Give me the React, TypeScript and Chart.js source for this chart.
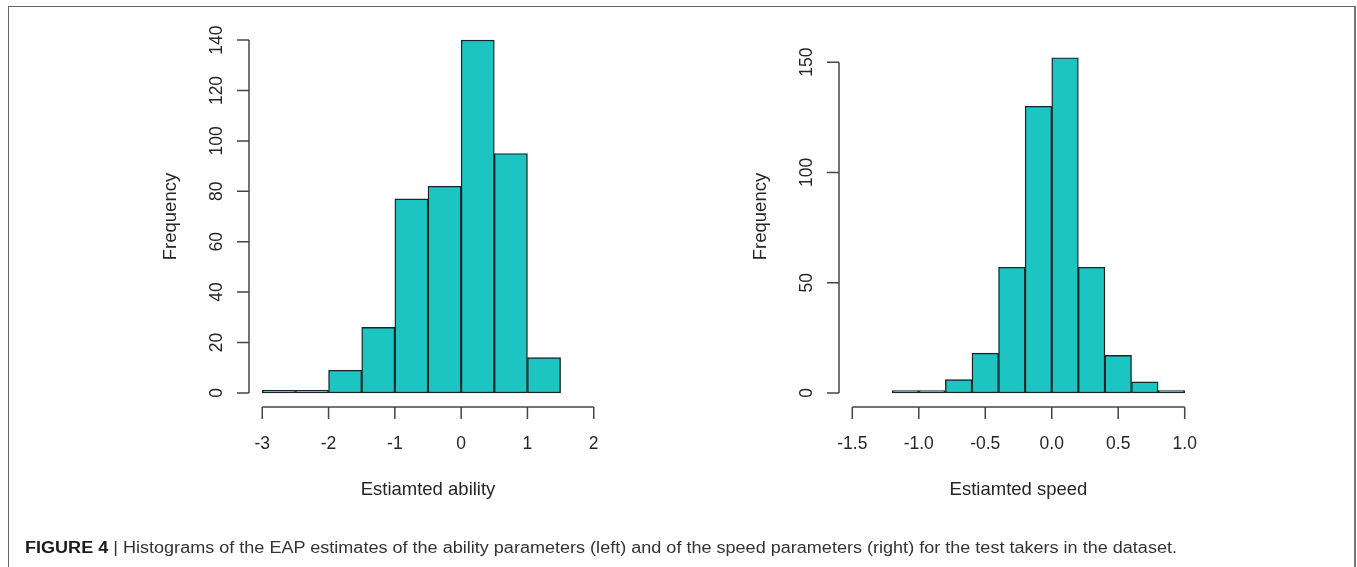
import React, { useEffect, useLayoutEffect, useRef } from "react";
import { Chart, registerables } from "chart.js";

Chart.register(...registerables);

// ---------- data ----------
const abilityBreaks = [-3, -2.5, -2, -1.5, -1, -0.5, 0, 0.5, 1, 1.5];
const abilityCounts = [1, 1, 9, 26, 77, 82, 140, 95, 14];
const abilityXTicks = [-3, -2, -1, 0, 1, 2];
const abilityXTickLabels = ["-3", "-2", "-1", "0", "1", "2"];
const abilityYTicks = [0, 20, 40, 60, 80, 100, 120, 140];
const abilityYTickLabels = ["0", "20", "40", "60", "80", "100", "120", "140"];

const speedBreaks = [-1.2, -1.0, -0.8, -0.6, -0.4, -0.2, 0, 0.2, 0.4, 0.6, 0.8, 1.0];
const speedCounts = [1, 1, 6, 18, 57, 130, 152, 57, 17, 5, 1];
const speedXTicks = [-1.5, -1.0, -0.5, 0, 0.5, 1.0];
const speedXTickLabels = ["-1.5", "-1.0", "-0.5", "0.0", "0.5", "1.0"];
const speedYTicks = [0, 50, 100, 150];
const speedYTickLabels = ["0", "50", "100", "150"];

const yAxisTitle = "Frequency";
const abilityTitle = "Estiamted ability";
const speedTitle = "Estiamted speed";
const captionBold = "FIGURE 4";
const captionText =
  "Histograms of the EAP estimates of the ability parameters (left) and of the speed parameters (right) for the test takers in the dataset.";

// ---------- styles ----------
const BAR_FILL = "#1cc4c2";
const BAR_BORDER = "#1a2626";
const AXIS_COLOR = "#454545";
const TEXT_COLOR = "#262626";
const FONT = "'Liberation Sans', Arial, Helvetica, sans-serif";

type PanelProps = {
  breaks: number[];
  counts: number[];
  xTicks: number[];
  xLabels: string[];
  yTicks: number[];
  yLabels: string[];
  xTitle: string;
  xMin: number;
  xMax: number;
  yMin: number;
  yMax: number;
  left: number;
  width: number;
  pad: { left: number; right: number; top: number; bottom: number };
};

function Panel(p: PanelProps) {
  const ref = useRef<HTMLCanvasElement | null>(null);
  useEffect(() => {
    if (!ref.current) return;
    const data = p.counts.map((c, i) => ({ x: (p.breaks[i] + p.breaks[i + 1]) / 2, y: c }));
    const rAxes = {
      id: "rAxes",
      afterDraw(chart: any) {
        const { ctx, chartArea } = chart;
        const xs = chart.scales.x;
        const ys = chart.scales.y;
        ctx.save();
        ctx.strokeStyle = AXIS_COLOR;
        ctx.lineWidth = 1.5;
        // x axis
        const ay = chartArea.bottom;
        const xa = xs.getPixelForValue(p.xTicks[0]);
        const xb = xs.getPixelForValue(p.xTicks[p.xTicks.length - 1]);
        ctx.beginPath();
        ctx.moveTo(xa, ay);
        ctx.lineTo(xb, ay);
        p.xTicks.forEach((t) => {
          const px = xs.getPixelForValue(t);
          ctx.moveTo(px, ay);
          ctx.lineTo(px, ay + 12);
        });
        ctx.stroke();
        // y axis
        const ax = chartArea.left;
        const ya = ys.getPixelForValue(p.yTicks[0]);
        const yb = ys.getPixelForValue(p.yTicks[p.yTicks.length - 1]);
        ctx.beginPath();
        ctx.moveTo(ax, ya);
        ctx.lineTo(ax, yb);
        p.yTicks.forEach((t) => {
          const py = ys.getPixelForValue(t);
          ctx.moveTo(ax, py);
          ctx.lineTo(ax - 12, py);
        });
        ctx.stroke();
        // tick labels
        ctx.fillStyle = TEXT_COLOR;
        ctx.font = `17.5px ${FONT}`;
        ctx.textAlign = "center";
        ctx.textBaseline = "alphabetic";
        p.xTicks.forEach((t, i) => {
          ctx.fillText(p.xLabels[i], xs.getPixelForValue(t), ay + 42);
        });
        p.yTicks.forEach((t, i) => {
          ctx.save();
          ctx.translate(ax - 27.3, ys.getPixelForValue(t));
          ctx.rotate(-Math.PI / 2);
          ctx.fillText(p.yLabels[i], 0, 0);
          ctx.restore();
        });
        // titles
        ctx.font = `18.5px ${FONT}`;
        ctx.fillText(p.xTitle, (chartArea.left + chartArea.right) / 2, ay + 88);
        ctx.save();
        ctx.translate(ax - 73, (chartArea.top + chartArea.bottom) / 2);
        ctx.rotate(-Math.PI / 2);
        ctx.fillText(yAxisTitle, 0, 0);
        ctx.restore();
        ctx.restore();
      },
    };
    const chart = new Chart(ref.current, {
      type: "bar",
      data: {
        datasets: [
          {
            data,
            backgroundColor: BAR_FILL,
            borderColor: BAR_BORDER,
            borderWidth: 1.4,
            borderSkipped: false,
            barPercentage: 1,
            categoryPercentage: 1,
          } as any,
        ],
      },
      options: {
        animation: false,
        responsive: false,
        devicePixelRatio: 1,
        layout: { padding: p.pad },
        plugins: { legend: { display: false }, tooltip: { enabled: false } },
        scales: {
          x: { type: "linear", min: p.xMin, max: p.xMax, display: false, offset: false },
          y: { type: "linear", min: p.yMin, max: p.yMax, display: false },
        },
      },
      plugins: [rAxes],
    });
    return () => chart.destroy();
  }, []);
  return (
    <canvas
      ref={ref}
      width={p.width}
      height={567}
      style={{ position: "absolute", left: p.left, top: 0, width: p.width, height: 567 }}
    />
  );
}

export default function App() {
  const capRef = useRef<HTMLDivElement | null>(null);
  useLayoutEffect(() => {
    const el = capRef.current;
    if (!el) return;
    el.style.transform = "none";
    const w = el.getBoundingClientRect().width;
    if (w > 0) el.style.transform = `scaleX(${1152 / w})`;
  }, []);
  return (
    <div
      style={{
        position: "absolute",
        left: 0,
        top: 0,
        width: 1357,
        height: 567,
        overflow: "hidden",
        background: "#fff",
      }}
    >
      <div
        style={{
          position: "absolute",
          left: 8,
          top: 6,
          width: 1345,
          height: 570,
          borderTop: "1px solid #666",
          borderLeft: "1px solid #666",
          borderRight: "2px solid #777",
        }}
      />
      <Panel
        breaks={abilityBreaks}
        counts={abilityCounts}
        xTicks={abilityXTicks}
        xLabels={abilityXTickLabels}
        yTicks={abilityYTicks}
        yLabels={abilityYTickLabels}
        xTitle={abilityTitle}
        xMin={-3.2}
        xMax={2.2}
        yMin={-5.6}
        yMax={145.6}
        left={0}
        width={680}
        pad={{ left: 249, right: 73, top: 26, bottom: 160 }}
      />
      <Panel
        breaks={speedBreaks}
        counts={speedCounts}
        xTicks={speedXTicks}
        xLabels={speedXTickLabels}
        yTicks={speedYTicks}
        yLabels={speedYTickLabels}
        xTitle={speedTitle}
        xMin={-1.6}
        xMax={1.1}
        yMin={-6.4}
        yMax={166.4}
        left={680}
        width={677}
        pad={{ left: 159, right: 159, top: 26, bottom: 160 }}
      />
      <div
        ref={capRef}
        style={{
          position: "absolute",
          left: 25,
          top: 539.5,
          whiteSpace: "nowrap",
          fontFamily: FONT,
          fontSize: 16,
          lineHeight: "16px",
          color: "#333",
          transformOrigin: "left top",
        }}
      >
        <span style={{ fontWeight: "bold", color: "#1a1a1a" }}>{captionBold}</span>
        <span style={{ color: "#333" }}> | </span>
        {captionText}
      </div>
    </div>
  );
}
